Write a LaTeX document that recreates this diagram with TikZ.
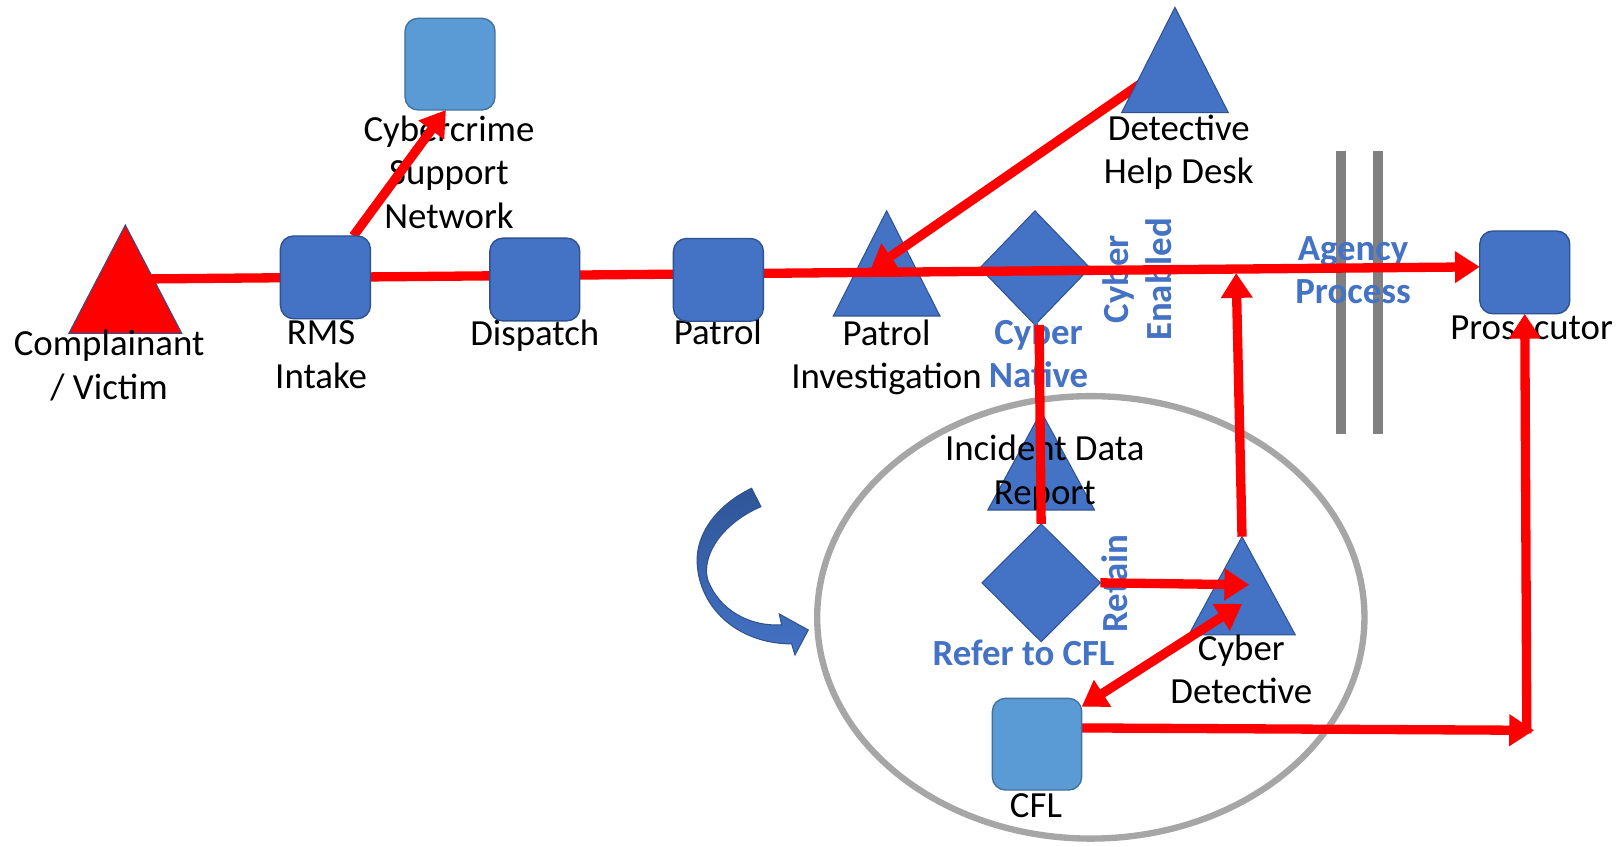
\documentclass[tikz,border=0pt]{standalone}
\usepackage{fontspec}
\setmainfont{Carlito}
\usetikzlibrary{arrows.meta,shapes.geometric,calc}
\pgfdeclarelayer{bg}
\pgfdeclarelayer{lo}
\pgfdeclarelayer{hi}
\pgfsetlayers{bg,lo,main,hi}
\definecolor{nodeblue}{HTML}{4472C4}
\definecolor{nodeedge}{HTML}{2F528F}
\definecolor{lightblue}{HTML}{5B9BD5}
\definecolor{lightedge}{HTML}{41719C}
\definecolor{ringgray}{HTML}{A6A6A6}
\definecolor{bargray}{HTML}{808080}
\definecolor{arrowtop}{HTML}{2F5597}
\begin{document}
\begin{tikzpicture}[x=0.75pt,y=-0.75pt,
  >={Triangle[length=18pt,width=22pt]},
  box/.style={rectangle, rounded corners=9.5pt, fill=nodeblue, draw=nodeedge, line width=1pt,
              minimum width=65.25pt, minimum height=60pt, inner sep=0pt, outer sep=0pt},
  lbox/.style={box, fill=lightblue, draw=lightedge, minimum height=66.5pt},
  tribox/.style={rectangle, draw=none, fill=none, inner sep=0pt, outer sep=0pt,
                 minimum width=77.3pt, minimum height=76.3pt},
  trifill/.style={fill=nodeblue, draw=nodeedge, line width=0.75pt, line join=miter},
  dia/.style={diamond, fill=nodeblue, draw=nodeedge, line width=0.75pt, inner sep=0pt, outer sep=0pt},
  lbl/.style={font=\fontsize{26.7}{31.5}\selectfont, align=center, inner sep=0pt, text=black},
  blbl/.style={lbl, font=\fontsize{26.7}{31.5}\selectfont\bfseries, text=nodeblue},
  flow/.style={draw=red, line width=6.75pt},
  flowarrow/.style={flow, ->},
  ring/.style={draw=ringgray, line width=4.6pt},
  bar/.style={fill=bargray},
  curvearrow/.style={top color=arrowtop, bottom color=nodeblue, draw=nodeedge, line width=0.75pt}
]
\useasboundingbox (0,0) rectangle (1568,818);

% ---------- background layer ----------
\begin{pgfonlayer}{bg}
  \fill[white] (0,0) rectangle (1568,818);
  \draw[ring] (1054.5,596.8) ellipse [x radius=198.4pt, y radius=160.4pt];
  \path[curvearrow] (726.6,472) .. controls (695,487) and (672,515) .. (674,545)
     .. controls (676,585) and (710,622) .. (765.3,622.5) -- (768.5,633.2) -- (781.4,609)
     -- (753.3,593.5) -- (755.6,604) .. controls (725,606) and (695,590) .. (684,560)
     .. controls (678,535) and (700,505) .. (735.6,489.8) -- cycle;
  \fill[bar] (1291.4,145.7) rectangle (1301.1,419.5);
  \fill[bar] (1327.5,145.7) rectangle (1337.2,419.5);
\end{pgfonlayer}

% ---------- lower shapes and labels ----------
\begin{pgfonlayer}{lo}
  \node[tribox, minimum width=81.8pt, minimum height=78.5pt] (comp) at (121.15,269.85) {};
  \path[trifill, fill=red] (comp.south west) -- (comp.north) -- (comp.south east) -- cycle;
  \node[tribox] (pi) at (857.1,254.6) {};
  \path[trifill] (pi.south west) -- (pi.north) -- (pi.south east) -- cycle;
  \node[tribox, minimum height=71.25pt] (inc) at (1006.5,445.5) {};
  \path[trifill] (inc.south west) -- (inc.north) -- (inc.south east) -- cycle;
  \node[tribox, minimum height=71.25pt] (cd) at (1200.65,566.3) {};
  \path[trifill] (cd.south west) -- (cd.north) -- (cd.south east) -- cycle;
  \node[dia, minimum width=79.8pt, minimum height=82.7pt] (cn) at (1000.5,259) {};

  \node[lbl] (lcomp) at (105.5,353.5) {Complainant\\/ Victim};
  \node[lbl] (lrms) at (310.4,343) {RMS\\Intake};
  \node[lbl] (ldisp) at (517,324.5) {Dispatch};
  \node[lbl] (lpat) at (694,320.5) {Patrol};
  \node[lbl] (lpi) at (857,345.5) {Patrol\\Investigation};
  \node[blbl] (lcn) at (1004,341.5) {Cyber\\Native};
  \node[blbl, rotate=90] (lce) at (1099.2,270) {Cyber\\Enabled};
  \node[lbl] (ldhd) at (1139.5,146.9) {Detective\\Help Desk};
  \node[lbl] (lcsn) at (434,166.5) {Cybercrime\\Support\\Network};
  \node[blbl] (lap) at (1308,261) {Agency\\Process};
  \node[lbl] (lpros) at (1480.6,317) {Prosecutor};
  \node[lbl] (linc) at (1010,456.9) {Incident Data\\Report};
  \node[blbl, rotate=90] (lret) at (1077.3,564) {Retain};
  \node[blbl] (lref) at (989.6,631.5) {Refer to CFL};
  \node[lbl] (lcd) at (1200,647) {Cyber\\Detective};
  \node[lbl] (lcfl) at (1001.5,779) {CFL};
\end{pgfonlayer}

% ---------- upper shapes ----------
\begin{pgfonlayer}{hi}
  \node[box] (rms) at (314.6,268.1) {};
  \node[box] (disp) at (517,270.2) {};
  \node[box] (patrol) at (694.5,270.5) {};
  \node[box] (pros) at (1474,263.3) {};
  \node[lbox] (csn) at (435,62) {};
  \node[lbox, minimum width=64.75pt] (cfl) at (1002.5,719.4) {};
  \node[dia, minimum width=85.8pt, minimum height=85.35pt] (rd) at (1006.5,563.4) {};
  \node[tribox] (dhd) at (1135.85,58) {};
  \path[trifill] (dhd.south west) -- (dhd.north) -- (dhd.south east) -- cycle;
\end{pgfonlayer}

% ---------- free ends ----------
\coordinate (pitip) at ($(pi.center)+(-16,7)$);
\coordinate (cdtip) at ($(cd.center)+(7,-1)$);
\coordinate (cdin) at ($(cd.center)+(0,17.5)$);
\coordinate (cdup) at (1195,264);
\coordinate (outr) at (1483,706);
\coordinate (outc) at (1476,709);

% ---------- connectors ----------
\draw[flowarrow] (comp.center) -- (pros.173);
\draw[flowarrow] (rms.56) -- (csn.265);
\draw[flowarrow] (dhd.center) -- (pitip);
\draw[flow] ($(cn.south)+(4,0)$) -- (rd.north);
\draw[flow] ($(rd.south)+(-3,0)$) -- ($(rd.south)+(-3,0)$ |- cfl.north);
\draw[flowarrow] (rd.east) -- (cdtip);
\draw[flow, <->] (cfl.40) -- (cdin);
\draw[flowarrow] (cd.north) -- (cdup);
\draw[flowarrow] (cfl.20) -- (outr);
\draw[flowarrow] (outc) -- (pros.south);
\end{tikzpicture}
\end{document}
